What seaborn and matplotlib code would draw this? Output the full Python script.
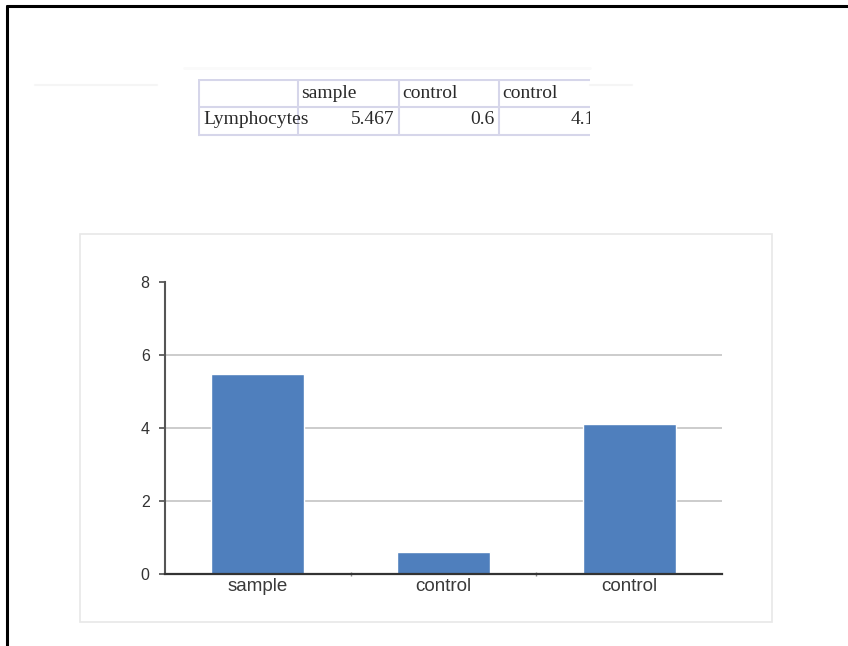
import matplotlib
matplotlib.use("Agg")
import matplotlib.pyplot as plt
import seaborn as sns
import pandas as pd
import numpy as np

# data
row_label = "Lymphocytes"
categories = ["sample", "control", "control"]
values = [5.467, 0.6, 4.1]
table_values = ["5.467", "0.6", "4.1"]
y_ticks = [0, 2, 4, 6, 8]

W, H = 848, 646
bar_color = "#4F7FBD"

sns.set_theme(style="white")
plt.rcParams["font.family"] = ["Liberation Sans", "DejaVu Sans"]

fig = plt.figure(figsize=(W / 100, H / 100), dpi=100)
fig.patch.set_facecolor("white")


def px_axes(x0, y0, w, h):
    # axes from pixel box (top-left origin)
    return fig.add_axes([x0 / W, 1 - (y0 + h) / H, w / W, h / H])


# background overlay in pixel coords
bg = fig.add_axes([0, 0, 1, 1])
bg.set_xlim(0, W)
bg.set_ylim(H, 0)
bg.axis("off")
bg.plot([7, W], [6, 6], color="black", lw=2.2)
bg.plot([7, 7], [6, H], color="black", lw=2.2)
# very faint smudges around the table
bg.plot([35, 157], [85, 85], color="#f5f5f5", lw=1.5)
bg.plot([590, 632], [85, 85], color="#f5f5f5", lw=1.5)
bg.plot([184, 590], [68, 68], color="#fafafa", lw=2)
# chart panel
bg.add_patch(plt.Rectangle((80, 234), 692, 388, fill=False,
                           edgecolor="#e8e8e8", lw=1.2))

# table (clipped on the right like the screenshot)
tab = px_axes(198, 79, 392, 58)
tab.set_xlim(0, 392)
tab.set_ylim(58, 0)
tab.axis("off")
col_edges = [0, 99, 200, 300, 400]
line_c = "#d6d6ea"
for y in [1, 28, 56]:
    tab.plot([0, 392], [y, y], color=line_c, lw=1.5, clip_on=True)
serif = ["Liberation Serif", "DejaVu Serif"]
tcol = "#2a2a2a"
for i, cat in enumerate(categories):
    tab.text(col_edges[i + 1] + 4, 14, cat, family=serif, fontsize=14,
             va="center", ha="left", color=tcol, clip_on=True)
    tab.text(col_edges[i + 2] - 3, 40, table_values[i], family=serif,
             fontsize=14, va="center", ha="right", color=tcol,
             clip_on=True)
tab.text(5, 40, row_label, family=serif, fontsize=14, va="center",
         ha="left", color=tcol, clip_on=True)
for x in col_edges[:-1]:
    tab.plot([x + 0.8, x + 0.8], [1, 56], color=line_c, lw=1.5, clip_on=True)

# bar chart
ax = px_axes(165, 282, 557, 292)
df = pd.DataFrame({"pos": np.arange(len(categories)), "value": values})
sns.barplot(data=df, x="pos", y="value", color=bar_color, saturation=1,
            width=0.5, ax=ax, zorder=3)
ax.set_xlim(-0.5, len(categories) - 0.5)
ax.set_ylim(0, 8)
ax.set_yticks(y_ticks)
ax.set_yticklabels([str(t) for t in y_ticks], fontsize=11.5, color="#333333")
ax.set_xticks(range(len(categories)))
ax.set_xticklabels(categories, fontsize=13.5, color="#3a3a3a")
ax.set_xticks([0.5, 1.5], minor=True)
ax.tick_params(axis="x", which="major", length=0, pad=3)
ax.tick_params(axis="x", which="minor", length=3, direction="inout",
               color="#888888", bottom=True)
ax.tick_params(axis="y", length=4, direction="out", color="#555555",
               left=True, pad=7)
ax.set_xlabel("")
ax.set_ylabel("")
for y in [2, 4, 6]:
    ax.axhline(y, color="#c8c8c8", lw=1.3, zorder=1)
for s in ["top", "right"]:
    ax.spines[s].set_visible(False)
ax.spines["left"].set_color("#555555")
ax.spines["left"].set_linewidth(1.5)
ax.spines["bottom"].set_color("#333333")
ax.spines["bottom"].set_linewidth(1.6)
ax.spines["bottom"].set_zorder(5)
ax.set_facecolor("none")

fig.savefig("out.png", dpi=100)
